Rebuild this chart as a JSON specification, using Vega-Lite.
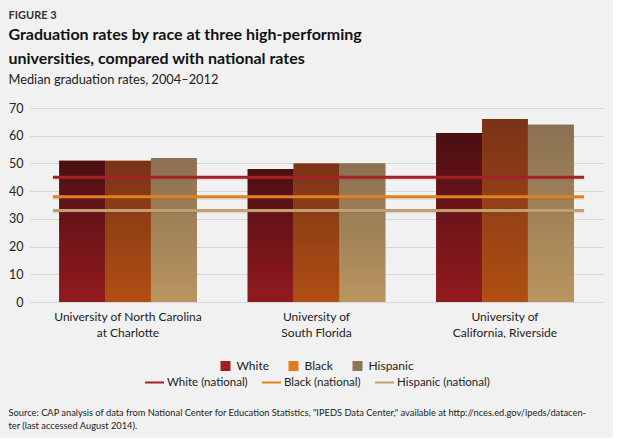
{
  "$schema": "https://vega.github.io/schema/vega-lite/v6.json",
  "background": "#f1f1f1",
  "padding": {"left": 8, "top": 10, "right": 10, "bottom": 6},
  "config": {
    "font": "Lato",
    "view": {"stroke": null},
    "concat": {"spacing": 0},
    "legend": {
      "layout": {"bottom": {"anchor": "middle", "direction": "vertical", "center": true, "margin": -2}}
    }
  },
  "datasets": {
    "bars": [
      {"uni": "University of North Carolina at Charlotte", "series": "White", "rate": 51},
      {"uni": "University of North Carolina at Charlotte", "series": "Black", "rate": 51},
      {"uni": "University of North Carolina at Charlotte", "series": "Hispanic", "rate": 52},
      {"uni": "University of South Florida", "series": "White", "rate": 48},
      {"uni": "University of South Florida", "series": "Black", "rate": 50},
      {"uni": "University of South Florida", "series": "Hispanic", "rate": 50},
      {"uni": "University of California, Riverside", "series": "White", "rate": 61},
      {"uni": "University of California, Riverside", "series": "Black", "rate": 66},
      {"uni": "University of California, Riverside", "series": "Hispanic", "rate": 64}
    ],
    "national": [
      {"series": "White (national)", "rate": 45},
      {"series": "Black (national)", "rate": 38},
      {"series": "Hispanic (national)", "rate": 33}
    ]
  },
  "title": {
    "text": ["Source:  CAP analysis of data from National Center for Education Statistics, \"IPEDS Data Center,\" available at http://nces.ed.gov/ipeds/datacen-", "ter (last accessed August 2014)."],
    "orient": "bottom", "anchor": "start", "frame": "bounds",
    "font": "Lato", "fontSize": 9.3, "fontWeight": "normal", "color": "#222", "lineHeight": 13, "offset": 21
  },
  "vconcat": [
    {
      "title": {
        "text": "FIGURE 3",
        "subtitle": ["Graduation rates by race at three high-performing", "universities, compared with national rates"],
        "anchor": "start", "frame": "bounds",
        "font": "Lato", "fontSize": 11, "fontWeight": "bold", "color": "#333",
        "subtitleFont": "Lato", "subtitleFontSize": 16, "subtitleFontWeight": "bold", "subtitleColor": "#111",
        "subtitleLineHeight": 24, "subtitlePadding": 6, "offset": 7
      },
      "vconcat": [
        {
          "width": 573,
          "height": 194,
          "title": {
            "text": "Median graduation rates, 2004–2012",
            "anchor": "start", "frame": "bounds",
            "font": "Lato", "fontSize": 12.8, "fontWeight": "normal", "color": "#222", "offset": 15
          },
          "encoding": {
            "x": {
              "field": "uni", "type": "nominal", "sort": null, "title": null,
              "scale": {"paddingInner": 0.27, "paddingOuter": 0.155},
              "axis": {
                "labelAngle": 0, "ticks": false, "domain": false, "labelPadding": 9,
                "labelFontSize": 12, "labelColor": "#222", "labelLineHeight": 16, "labelFont": "Lato",
                "labelExpr": "datum.value == 'University of North Carolina at Charlotte' ? ['University of North Carolina', 'at Charlotte'] : datum.value == 'University of South Florida' ? ['University of', 'South Florida'] : ['University of', 'California, Riverside']"
              }
            },
            "y": {
              "field": "rate", "type": "quantitative", "title": null,
              "scale": {"domain": [0, 70], "nice": false},
              "axis": {
                "values": [0, 10, 20, 30, 40, 50, 60, 70], "ticks": false, "domain": false,
                "gridColor": "#d6d6d6", "gridWidth": 1.2, "labelPadding": 7,
                "labelFontSize": 12.5, "labelColor": "#222", "labelFont": "Lato"
              }
            }
          },
          "layer": [
            {
              "data": {"name": "bars"},
              "mark": {"type": "bar"},
              "encoding": {
                "xOffset": {"field": "series", "type": "nominal", "sort": ["White", "Black", "Hispanic"]},
                "color": {
                  "field": "series", "type": "nominal",
                  "scale": {"domain": ["White", "Black", "Hispanic"], "range": ["#a01e22", "#e07b20", "#8b7355"]},
                  "legend": {
                    "title": null, "orient": "bottom", "direction": "horizontal", "offset": 22,
                    "labelFontSize": 12, "labelColor": "#222", "labelFont": "Lato", "labelOffset": 5,
                    "columnPadding": 18, "symbolType": "square", "symbolSize": 100, "symbolOpacity": 1
                  }
                }
              }
            },
            {
              "data": {"name": "bars"},
              "transform": [{"filter": "datum.series === 'White'"}],
              "mark": {"type": "bar", "fill": {"gradient": "linear", "x1": 0, "y1": 0, "x2": 0, "y2": 1, "stops": [{"offset": 0, "color": "#4b0f12"}, {"offset": 1, "color": "#921a1f"}]}},
              "encoding": {
                "xOffset": {"field": "series", "type": "nominal", "sort": ["White", "Black", "Hispanic"]}
              }
            },
            {
              "data": {"name": "bars"},
              "transform": [{"filter": "datum.series === 'Black'"}],
              "mark": {"type": "bar", "fill": {"gradient": "linear", "x1": 0, "y1": 0, "x2": 0, "y2": 1, "stops": [{"offset": 0, "color": "#7a3318"}, {"offset": 1, "color": "#b04f12"}]}},
              "encoding": {
                "xOffset": {"field": "series", "type": "nominal", "sort": ["White", "Black", "Hispanic"]}
              }
            },
            {
              "data": {"name": "bars"},
              "transform": [{"filter": "datum.series === 'Hispanic'"}],
              "mark": {"type": "bar", "fill": {"gradient": "linear", "x1": 0, "y1": 0, "x2": 0, "y2": 1, "stops": [{"offset": 0, "color": "#8a7152"}, {"offset": 1, "color": "#b9955f"}]}},
              "encoding": {
                "xOffset": {"field": "series", "type": "nominal", "sort": ["White", "Black", "Hispanic"]}
              }
            },
            {
              "data": {"name": "national"},
              "mark": {"type": "rule", "strokeWidth": 3, "stroke": "#555555", "opacity": 0.14, "yOffset": 1.5},
              "encoding": {
                "x": {"datum": "University of North Carolina at Charlotte", "type": "nominal", "bandPosition": -0.046},
                "x2": {"datum": "University of California, Riverside", "bandPosition": 1.075},
                "y": {"field": "rate", "type": "quantitative"}
              }
            },
            {
              "data": {"name": "national"},
              "mark": {"type": "rule", "strokeWidth": 3},
              "encoding": {
                "x": {"datum": "University of North Carolina at Charlotte", "type": "nominal", "bandPosition": -0.046},
                "x2": {"datum": "University of California, Riverside", "bandPosition": 1.075},
                "y": {"field": "rate", "type": "quantitative"},
                "stroke": {
                  "field": "series", "type": "nominal",
                  "scale": {"domain": ["White (national)", "Black (national)", "Hispanic (national)"], "range": ["#a81f25", "#e3801f", "#c2a06e"]},
                  "legend": {
                    "title": null, "orient": "bottom", "direction": "horizontal",
                    "labelFontSize": 11.5, "labelColor": "#222", "labelFont": "Lato", "labelOffset": 2,
                    "columnPadding": 10, "symbolType": "stroke", "symbolSize": 361, "symbolStrokeWidth": 2
                  }
                }
              }
            }
          ]
        }
      ]
    }
  ]
}
